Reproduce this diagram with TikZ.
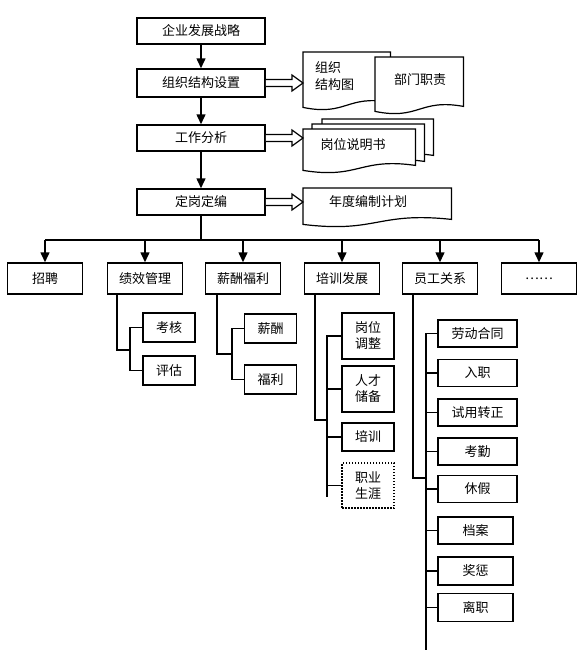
\documentclass[tikz,border=0pt]{standalone}
\usepackage{fontspec}
\newfontfamily\cjk{Noto Sans CJK SC}
\usetikzlibrary{arrows.meta,calc}

\newcommand{\docline}[1]{%
  \draw[docedge] ($(#1.south west)+(0,5)$) -- (#1.north west) -- (#1.north east) -- (#1.south east)
    .. controls ($(#1.south)+(0,-8)$) and ($(#1.south)+(0,14)$) .. ($(#1.south west)+(0,5)$) -- cycle;}
\newcommand{\hollowarrow}[2]{%
  \draw[hollow] ($(#1)+(0,-3.5)$) -- ($(#2)+(-11,-3.5)$) -- ($(#2)+(-11,-8)$) -- (#2)
    -- ($(#2)+(-11,8)$) -- ($(#2)+(-11,3.5)$) -- ($(#1)+(0,3.5)$);}

\begin{document}
\begin{tikzpicture}[x=1pt,y=-1pt,
	box/.style={draw, line width=1.5pt, inner sep=0pt, font=\cjk\fontsize{13}{16}\selectfont, align=center},
	sub/.style={box, minimum width=52pt},
	arr/.style={line width=1.5pt, -{Triangle[length=10pt,width=9pt]}},
	link/.style={line width=1.5pt},
	hollow/.style={line width=1.2pt, fill=white},
	docedge/.style={line width=1.2pt, fill=white},
	docnode/.style={inner sep=0pt, anchor=north west},
	doctext/.style={inner sep=0pt, font=\cjk\fontsize{13}{17}\selectfont, align=left}]
	\useasboundingbox (0,0) rectangle (586,664);
	% main line
	\node[box, minimum width=128pt, minimum height=26pt] (strategy) at (201,31) {企业发展战略};
	\node[box, minimum width=128pt, minimum height=28pt] (orgset) at (201,83) {组织结构设置};
	\node[box, minimum width=128pt, minimum height=26pt] (jobana) at (201,138) {工作分析};
	\node[box, minimum width=128pt, minimum height=26pt] (staffing) at (201,202) {定岗定编};
	\draw[arr] (strategy) -- (orgset);
	\draw[arr] (orgset) -- (jobana);
	\draw[arr] (jobana) -- (staffing);
	% documents
	\node[docnode, minimum width=87pt, minimum height=50pt] (orgdoc) at (303,52) {};
	\docline{orgdoc}
	\node[doctext, anchor=west] (orgchart) at (315,76) {组织\\结构图};
	\node[docnode, minimum width=88pt, minimum height=49pt] (deptdoc) at (375,57) {};
	\docline{deptdoc}
	\node[doctext] (duty) at (420,80) {部门职责};
	\node[docnode, minimum width=111pt, minimum height=36pt] (jobdoc3) at (322,119) {};
	\docline{jobdoc3}
	\node[docnode, minimum width=112pt, minimum height=37pt] (jobdoc2) at (312,124) {};
	\docline{jobdoc2}
	\node[docnode, minimum width=112pt, minimum height=36pt] (jobdoc) at (303,129) {};
	\docline{jobdoc}
	\node[doctext] (jobdesc) at (353,145) {岗位说明书};
	\node[docnode, minimum width=148pt, minimum height=31pt] (plandoc) at (303,188) {};
	\docline{plandoc}
	\node[doctext] (plan) at (368,202) {年度编制计划};
	\hollowarrow{orgset.east}{orgset.east -| orgdoc.west}
	\hollowarrow{jobana.east}{jobana.east -| jobdoc.west}
	\hollowarrow{staffing.east}{staffing.east -| plandoc.west}
	% second row
	\node[box, minimum width=75pt, minimum height=31pt] (hire) at (45,278.5) {招聘};
	\node[box, minimum width=75pt, minimum height=31pt] (perf) at (145,278.5) {绩效管理};
	\node[box, minimum width=75pt, minimum height=31pt] (pay) at (243,278.5) {薪酬福利};
	\node[box, minimum width=75pt, minimum height=31pt] (train) at (342,278.5) {培训发展};
	\node[box, minimum width=75pt, minimum height=31pt] (staff) at (440,278.5) {员工关系};
	\node[box, minimum width=75pt, minimum height=31pt] (more) at (539,278.5) {……};
	\coordinate (bus) at (201,240);
	\draw[link] (staffing.south) -- (bus);
	\draw[link] (hire.north |- bus) -- (more.north |- bus);
	\draw[arr] (hire.north |- bus) -- (hire.north);
	\draw[arr] (perf.north |- bus) -- (perf.north);
	\draw[arr] (pay.north |- bus) -- (pay.north);
	\draw[arr] (train.north |- bus) -- (train.north);
	\draw[arr] (staff.north |- bus) -- (staff.north);
	\draw[arr] (more.north |- bus) -- (more.north);
	% performance
	\node[sub, minimum height=29pt] (check) at (169,327.5) {考核};
	\node[sub, minimum height=29pt] (eval) at (169,370.5) {评估};
	\coordinate (perfbus) at (130,350);
	\draw[link] ([xshift=-28pt]perf.south) |- (perfbus);
	\draw[link] (check.west) -| (perfbus);
	\draw[link] (eval.west) -| (perfbus);
	% pay
	\node[sub, minimum height=29pt] (salary) at (270.5,328.5) {薪酬};
	\node[sub, minimum height=29pt] (welfare) at (270.5,379.5) {福利};
	\coordinate (paybus) at (232,354);
	\draw[link] ([xshift=-26pt]pay.south) |- (paybus);
	\draw[link] (salary.west) -| (paybus);
	\draw[link] (welfare.west) -| (paybus);
	% training
	\node[sub, minimum height=46pt] (move) at (368,336) {岗位\\调整};
	\node[sub, minimum height=46pt] (talent) at (368,389) {人才\\储备};
	\node[sub, minimum height=28pt] (course) at (368,437) {培训};
	\node[sub, minimum height=45pt, line width=1.2pt, dash pattern=on 1.5pt off 1.5pt] (career) at (368,485.5) {职业\\生涯};
	\coordinate (trainbus) at (327,420);
	\coordinate (trainend) at (327,497);
	\draw[link] ([xshift=-27pt]train.south) |- (trainbus);
	\draw[link] (move.west) -| (trainend);
	\draw[link] (talent.west) -- (talent.west -| trainend);
	\draw[link] (course.west) -- (course.west -| trainend);
	\draw[link] (career.west) -- (career.west -| trainend);
	% staff relations
	\node[box, minimum width=79pt, minimum height=27pt] (contract) at (477.5,333.5) {劳动合同};
	\node[box, minimum width=79pt, minimum height=27pt] (entry) at (477.5,373) {入职};
	\node[box, minimum width=79pt, minimum height=27pt] (probation) at (477.5,412.5) {试用转正};
	\node[box, minimum width=79pt, minimum height=27pt] (attend) at (477.5,451.5) {考勤};
	\node[box, minimum width=79pt, minimum height=27pt] (leave) at (477.5,489) {休假};
	\node[box, minimum width=75pt, minimum height=27pt] (archive) at (475.5,530.5) {档案};
	\node[box, minimum width=75pt, minimum height=28pt] (reward) at (475.5,571) {奖惩};
	\node[box, minimum width=75pt, minimum height=28pt] (quit) at (475.5,607.5) {离职};
	\coordinate (staffbus) at (426,478);
	\coordinate (staffend) at (426,650);
	\draw[link] ([xshift=-27pt]staff.south) |- (staffbus);
	\draw[link] (contract.west) -| (staffend);
	\draw[link] (entry.west) -- (entry.west -| staffend);
	\draw[link] (probation.west) -- (probation.west -| staffend);
	\draw[link] (attend.west) -- (attend.west -| staffend);
	\draw[link] (leave.west) -- (leave.west -| staffend);
	\draw[link] (archive.west) -- (archive.west -| staffend);
	\draw[link] (reward.west) -- (reward.west -| staffend);
	\draw[link] (quit.west) -- (quit.west -| staffend);
\end{tikzpicture}
\end{document}
